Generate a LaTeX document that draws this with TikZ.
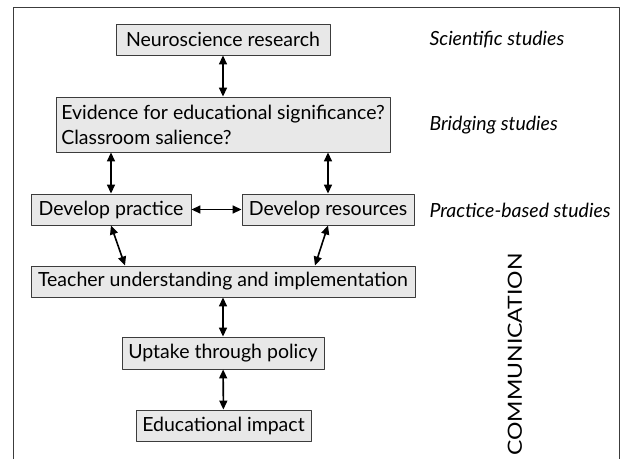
\documentclass[tikz,border=0pt]{standalone}
\usepackage{fontspec}
\setmainfont{Lato}
\usetikzlibrary{calc, arrows.meta}
\definecolor{boxfill}{RGB}{232,232,232}
\definecolor{boxline}{RGB}{60,60,60}
\newcommand{\diagfont}{\fontsize{19.5}{25}\selectfont}
\tikzset{
	stage/.style={draw=boxline, fill=boxfill, line width=0.9pt, inner sep=2pt, align=left},
	studies/.style={anchor=west, font=\diagfont\itshape},
	link/.style={<->, line width=1.6pt}
}
\begin{document}
\begin{tikzpicture}[x=1pt, y=-1pt, line join=round, >={Triangle[length=9pt, width=8pt]}, font=\diagfont]
	\useasboundingbox (0,0) rectangle (627,459);
	\draw[boxline, line width=1pt] (13,459) -- (13,7) -- (619,7) -- (619,459);
	
	\path
	(223,39.5) node[stage, minimum width=214pt, minimum height=31pt] (nr) {Neuroscience research}
	(223,124.5) node[stage, minimum width=334pt, minimum height=55pt] (ev) {Evidence for educational significance?\\Classroom salience?}
	(111,209.5) node[stage, minimum width=160pt, minimum height=31pt] (dp) {Develop practice}
	(328,209.5) node[stage, minimum width=172pt, minimum height=31pt] (dr) {Develop resources}
	(223,281.5) node[stage, minimum width=384pt, minimum height=31pt] (tu) {Teacher understanding and implementation}
	(223,353) node[stage, minimum width=202pt, minimum height=32pt] (up) {Uptake through policy}
	(223.5,425.5) node[stage, minimum width=175pt, minimum height=31pt] (ei) {Educational impact};
	
	\path
	(426,40) node[studies] (sci) {Scientific studies}
	(426,125) node[studies] (bri) {Bridging studies}
	(426,210) node[studies] (pra) {Practice-based studies}
	(515,354.5) node[rotate=90] (com) {\scalebox{1.18}[1]{COMMUNICATION}};
	
	\foreach \a/\b in {nr/ev, dp/dr, tu/up, up/ei}
	\draw[link] (\a) -- (\b);
	\draw[link] (ev.south -| dp) -- (dp);
	\draw[link] (ev.south -| dr) -- (dr);
	\draw[link] (dp.south) -- ($(dp.south |- tu.north)+(14,0)$);
	\draw[link] (dr.south) -- ($(dr.south |- tu.north)+(-13,0)$);
\end{tikzpicture}
\end{document}
